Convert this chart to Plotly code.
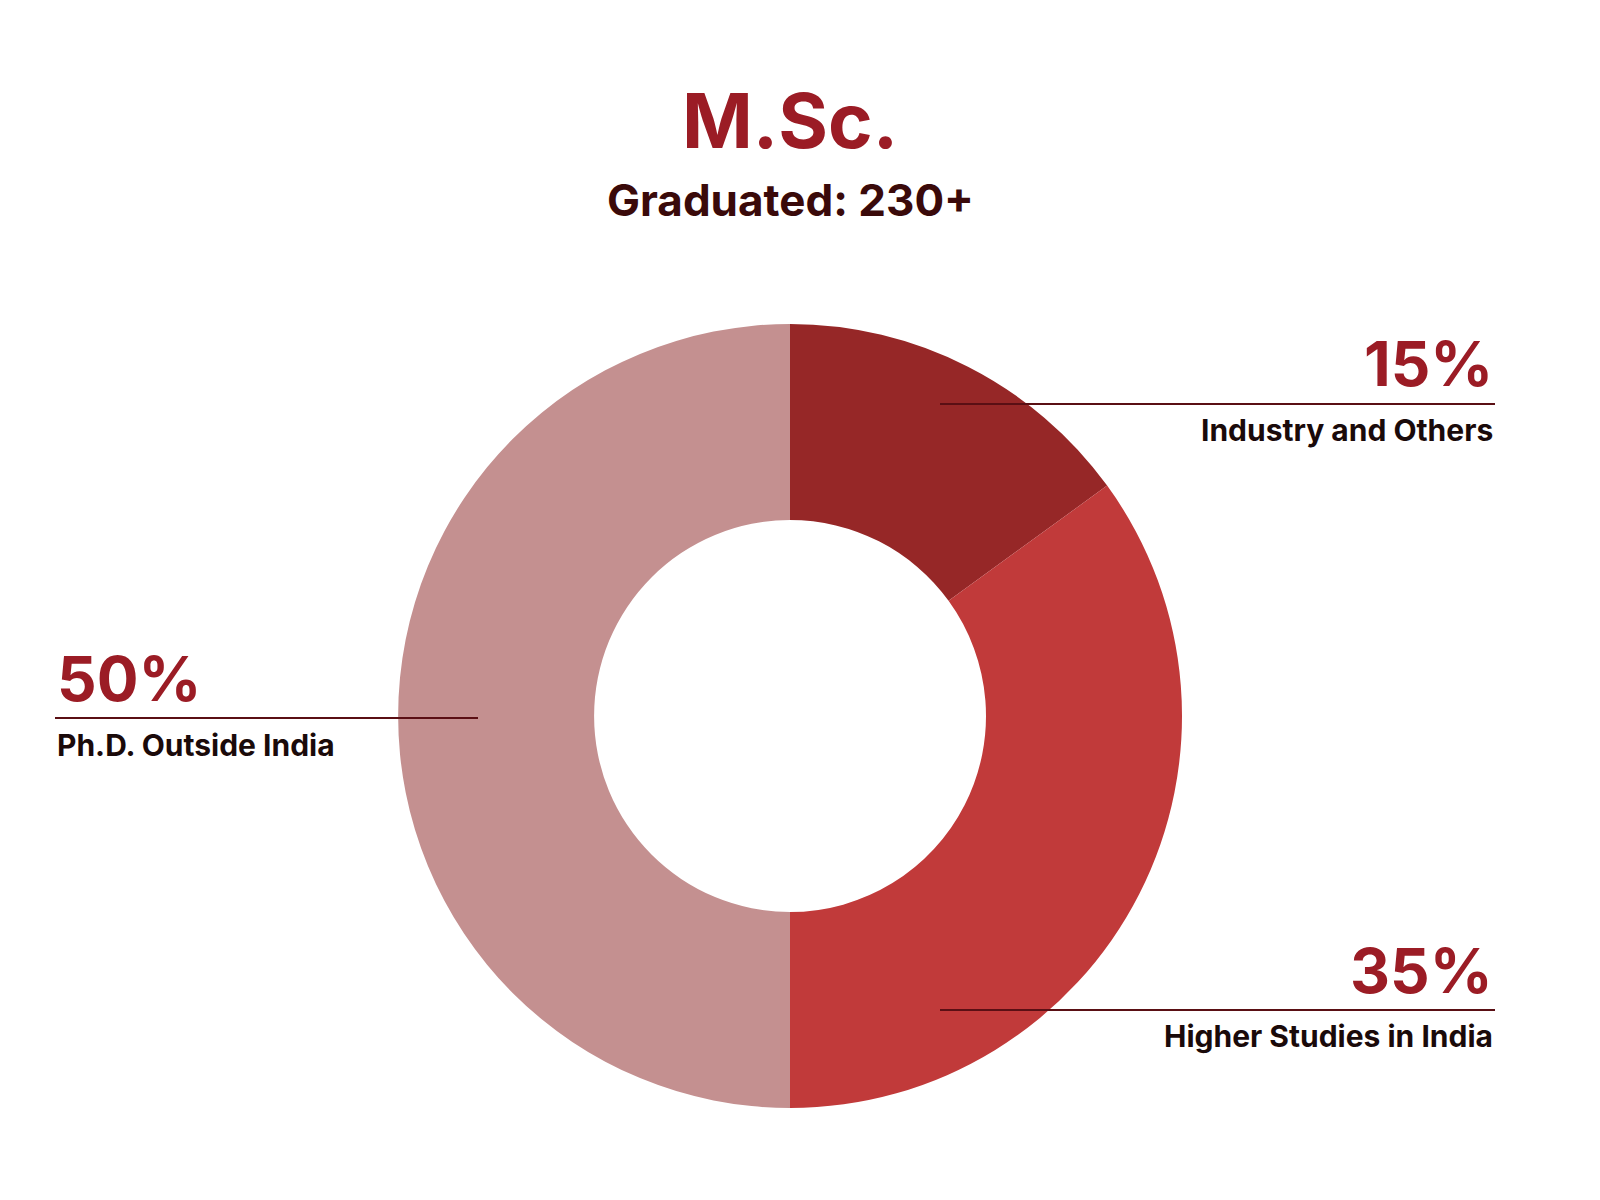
import plotly.graph_objects as go

labels = ["Industry and Others", "Higher Studies in India", "Ph.D. Outside India"]
values = [15, 35, 50]
colors = ["#962727", "#c13a3a", "#c49090"]

W, H = 1600, 1200

def px(x):
    return x / W

def py(y):
    return 1 - y / H

fig = go.Figure(go.Pie(
    labels=labels, values=values, hole=0.5, sort=False,
    direction="clockwise", rotation=0,
    marker=dict(colors=colors, line=dict(color="rgba(0,0,0,0)", width=0)),
    textinfo="none", hoverinfo="label+percent", showlegend=False,
    domain=dict(x=[px(390), px(1174)], y=[py(1100), py(316)]),
))

red = "#9b1c25"
dark = "#1a0a0a"
fnt = "Inter"

ann = [
    dict(x=px(782), y=py(112), text="<b>M.Sc.</b>", font=dict(size=76, color=red)),
    dict(x=px(782), y=py(192), text="<b>Graduated: 230+</b>", font=dict(size=44, color="#3a0a0a")),
    dict(x=px(1487), y=py(356), text="<b>15%</b>", xanchor="right", font=dict(size=62, color=red)),
    dict(x=px(1487), y=py(422), text="<b>Industry and Others</b>", xanchor="right", font=dict(size=30, color=dark)),
    dict(x=px(47), y=py(670), text="<b>50%</b>", xanchor="left", font=dict(size=62, color=red)),
    dict(x=px(47), y=py(737), text="<b>Ph.D. Outside India</b>", xanchor="left", font=dict(size=30, color=dark)),
    dict(x=px(1487), y=py(962), text="<b>35%</b>", xanchor="right", font=dict(size=62, color=red)),
    dict(x=px(1487), y=py(1028), text="<b>Higher Studies in India</b>", xanchor="right", font=dict(size=30, color=dark)),
]
for a in ann:
    a.update(xref="paper", yref="paper", showarrow=False, yanchor="middle")
    a.setdefault("xanchor", "center")
    a["font"]["family"] = fnt

lines = [(932, 1487, 396), (47, 470, 710), (932, 1487, 1002)]
shapes = [dict(type="line", xref="paper", yref="paper", x0=px(a), x1=px(b), y0=py(y), y1=py(y),
               line=dict(color="#5a0f14", width=2)) for a, b, y in lines]

fig.update_layout(width=W, height=H, margin=dict(l=0, r=0, t=0, b=0),
                  paper_bgcolor="white", plot_bgcolor="white",
                  annotations=ann, shapes=shapes)
fig.write_html("out.html")
